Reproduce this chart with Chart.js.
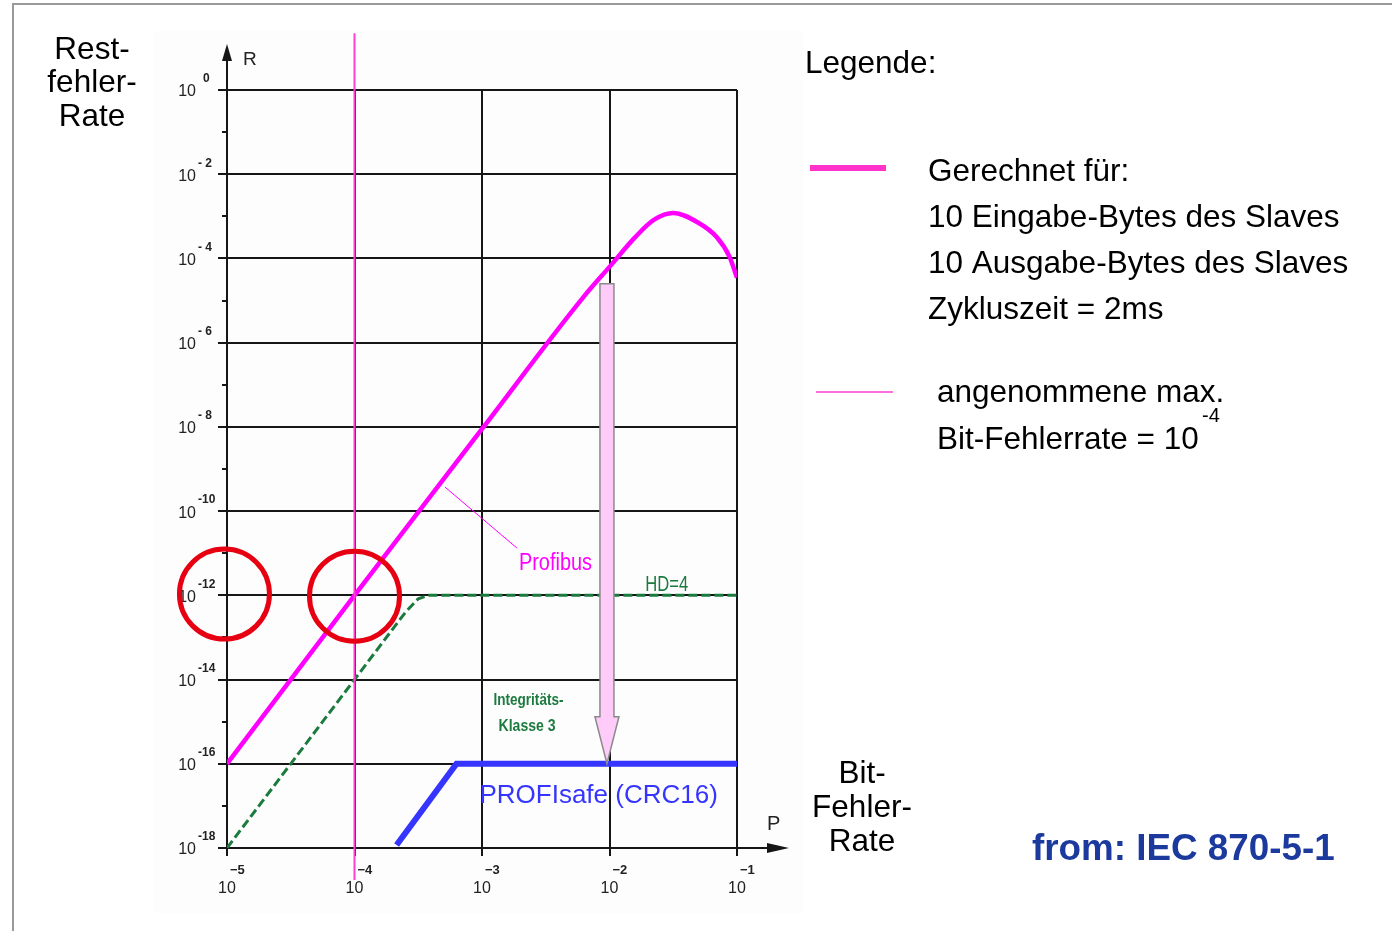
<!DOCTYPE html>
<html>
<head>
<meta charset="utf-8">
<script src="https://cdn.jsdelivr.net/npm/chart.js@4"></script>
<style>
  html, body { margin: 0; padding: 0; background: #fff; }
  #wrap { position: relative; width: 1392px; height: 931px; }
</style>
</head>
<body>
<div id="wrap"><canvas id="chart" width="1392" height="931"></canvas></div>
<script>
// decades shown on the axes (log10 values)
const xDecades = [-5, -4, -3, -2, -1];
const yDecades = [0, -2, -4, -6, -8, -10, -12, -14, -16, -18];
const yMinorDecades = [-1, -3, -5, -7, -9, -11, -13, -15, -17];

// Profibus residual error rate (log10 P, log10 R)
const profibusLogP = [-5, -4, -3, -2.2, -2.0, -1.8, -1.65, -1.5, -1.31, -1.16, -1.06, -1.0];
const profibusLogR = [-16, -12, -8.05, -4.9, -4.2, -3.5, -3.08, -2.92, -3.14, -3.49, -3.95, -4.46];

// HD=4 (Integritaets-Klasse 3)
const hdLogP = [-5, -4, -3.6, -3.5, -3.42, -1.0];
const hdLogR = [-18, -14, -12.4, -12.08, -12, -12];

// PROFIsafe (CRC16)
const crcLogP = [-3.67, -3.2, -1.0];
const crcLogR = [-17.93, -16, -16];

// assumed max. bit error rate 10^-4 (vertical line)
const maxBerLogP = [-4, -4];
const maxBerLogR = [1.35, -18.76];

// pink arrow at P = 10^-2 from the Profibus curve down to PROFIsafe
const arrowLogP = -2.02;
const arrowLogR = [-4.6, -16];

// red circles
const circleLogP = [-5.02, -4];
const circleLogR = [-11.97, -12.02];

const legendLines = ['Gerechnet für:', '10 Eingabe-Bytes des Slaves', '10 Ausgabe-Bytes des Slaves', 'Zykluszeit = 2ms'];

const MAGENTA = '#ff00ff';
const PINK_LINE = '#ff3fcf';
const GREEN = '#1b7a3e';
const BLUE = '#3535ff';
const ARIAL = "'Liberation Sans', Arial, sans-serif";

function pts(ps, rs) {
  return ps.map((p, i) => ({ x: 10 ** p, y: 10 ** rs[i] }));
}

function text(ctx, str, x, y, font, color, align, maxWidth) {
  ctx.font = font;
  ctx.fillStyle = color;
  ctx.textAlign = align || 'left';
  ctx.textBaseline = 'middle';
  if (maxWidth) ctx.fillText(str, x, y, maxWidth);
  else ctx.fillText(str, x, y);
}

function line(ctx, x1, y1, x2, y2, color, width) {
  ctx.strokeStyle = color;
  ctx.lineWidth = width;
  ctx.beginPath();
  ctx.moveTo(x1, y1);
  ctx.lineTo(x2, y2);
  ctx.stroke();
}

const backdrop = {
  id: 'backdrop',
  beforeDraw(chart) {
    const ctx = chart.ctx;
    ctx.save();
    ctx.fillStyle = '#fff';
    ctx.fillRect(0, 0, chart.width, chart.height);
    ctx.fillStyle = '#fdfdfd';
    ctx.fillRect(154, 31, 649, 882);
    ctx.strokeStyle = '#9a9a9a';
    ctx.lineWidth = 2;
    ctx.beginPath();
    ctx.moveTo(13, 931);
    ctx.lineTo(13, 4);
    ctx.lineTo(1392, 4);
    ctx.stroke();
    ctx.restore();
  },
  beforeDatasetsDraw(chart) {
    const { ctx, chartArea: a, scales: { x, y } } = chart;
    ctx.save();
    const ink = '#161616';
    // horizontal grid at even decades, with a short tick left of the axis
    yDecades.forEach((e) => {
      const py = Math.round(y.getPixelForValue(10 ** e));
      line(ctx, a.left - 9, py, a.right, py, ink, 2);
    });
    yMinorDecades.forEach((e) => {
      const py = Math.round(y.getPixelForValue(10 ** e));
      line(ctx, a.left - 5, py, a.left, py, ink, 2);
    });
    // vertical grid at each decade, with tick below the axis
    xDecades.forEach((e) => {
      const px = Math.round(x.getPixelForValue(10 ** e));
      line(ctx, px, a.top, px, a.bottom + 8, ink, 2);
    });
    // axis arrows
    line(ctx, a.left, a.top, a.left, 56, ink, 2);
    ctx.fillStyle = ink;
    ctx.beginPath();
    ctx.moveTo(a.left, 44);
    ctx.lineTo(a.left - 5, 61);
    ctx.lineTo(a.left + 5, 61);
    ctx.closePath();
    ctx.fill();
    line(ctx, a.right, a.bottom, 772, a.bottom, ink, 2);
    ctx.beginPath();
    ctx.moveTo(789, a.bottom);
    ctx.lineTo(767, a.bottom - 5);
    ctx.lineTo(767, a.bottom + 5);
    ctx.closePath();
    ctx.fill();
    text(ctx, 'R', 243, 60, '19px ' + ARIAL, '#222');
    text(ctx, 'P', 767, 824, '20px ' + ARIAL, '#222');

    // tick labels
    yDecades.forEach((e) => {
      const py = y.getPixelForValue(10 ** e);
      text(ctx, '10', 196, py + 2, '16px ' + ARIAL, '#222', 'right');
      const exp = e === 0 ? '0' : (e > -10 ? '- ' + (-e) : '-' + (-e));
      text(ctx, exp, e === 0 ? 203 : 198, py - 11, 'bold 12px ' + ARIAL, '#222');
    });
    xDecades.forEach((e) => {
      const px = x.getPixelForValue(10 ** e);
      text(ctx, '10', px, 889, '16px ' + ARIAL, '#222', 'center');
      text(ctx, '\u2212' + (-e), px + 3, 870, 'bold 13px ' + ARIAL, '#222');
    });
    ctx.restore();
  },
  afterDatasetsDraw(chart) {
    const { ctx, scales: { x, y } } = chart;
    const X = (lp) => x.getPixelForValue(10 ** lp);
    const Y = (lr) => y.getPixelForValue(10 ** lr);
    ctx.save();

    // pink arrow
    const ax = X(arrowLogP);
    const top = Y(arrowLogR[0]);
    const tip = Y(arrowLogR[1]);
    const headTop = tip - 47;
    ctx.fillStyle = '#ffccfa';
    ctx.strokeStyle = '#8a8a8a';
    ctx.lineWidth = 1.5;
    ctx.beginPath();
    ctx.moveTo(ax - 7, top);
    ctx.lineTo(ax + 7, top);
    ctx.lineTo(ax + 7, headTop);
    ctx.lineTo(ax + 12, headTop);
    ctx.lineTo(ax, tip);
    ctx.lineTo(ax - 12, headTop);
    ctx.lineTo(ax - 7, headTop);
    ctx.closePath();
    ctx.fill();
    ctx.stroke();

    // annotations inside the plot (narrow lettering)
    line(ctx, X(-3.29), Y(-9.43), X(-2.725), Y(-10.88), MAGENTA, 1);
    text(ctx, 'Profibus', X(-2.71), Y(-11.25), '23px ' + ARIAL, MAGENTA, 'left', 73);
    text(ctx, 'HD=4', X(-1.72), Y(-11.75), '22px ' + ARIAL, GREEN, 'left', 43);
    text(ctx, 'Integritäts-', X(-2.91), Y(-14.5), 'bold 16px ' + ARIAL, GREEN, 'left', 70);
    text(ctx, 'Klasse 3', X(-2.87), Y(-15.12), 'bold 16px ' + ARIAL, GREEN, 'left', 57);
    text(ctx, 'PROFIsafe (CRC16)', X(-3.02), Y(-16.76), '26px ' + ARIAL, BLUE);

    // red circles
    ctx.strokeStyle = '#e60012';
    ctx.lineWidth = 5;
    circleLogP.forEach((lp, i) => {
      ctx.beginPath();
      ctx.arc(X(lp), Y(circleLogR[i]), 45, 0, Math.PI * 2);
      ctx.stroke();
    });

    // axis titles
    const big = '31.5px ' + ARIAL;
    ['Rest-', 'fehler-', 'Rate'].forEach((s, i) => text(ctx, s, 92, 50 + i * 33.5, big, '#000', 'center'));
    ['Bit-', 'Fehler-', 'Rate'].forEach((s, i) => text(ctx, s, 862, 774 + i * 34, big, '#000', 'center'));

    // legend
    text(ctx, 'Legende:', 805, 64, big, '#000');
    line(ctx, 810, 168, 886, 168, '#ff33cc', 6);
    legendLines.forEach((s, i) => text(ctx, s, 928, 172 + i * 46, big, '#000'));
    line(ctx, 816, 392, 893, 392, PINK_LINE, 1.5);
    text(ctx, 'angenommene max.', 937, 393, big, '#000');
    text(ctx, 'Bit-Fehlerrate = 10', 937, 440, big, '#000');
    text(ctx, '-4', 1202, 416, '20px ' + ARIAL, '#000');

    text(ctx, 'from: IEC 870-5-1', 1032, 850, 'bold 36.8px ' + ARIAL, '#1c3a9e');
    ctx.restore();
  },
};

new Chart(document.getElementById('chart'), {
  type: 'line',
  data: {
    datasets: [
      {
        label: 'max. Bit-Fehlerrate',
        data: pts(maxBerLogP, maxBerLogR),
        borderColor: PINK_LINE,
        borderWidth: 2,
        pointRadius: 0,
        clip: false,
      },
      {
        label: 'HD=4',
        data: pts(hdLogP, hdLogR),
        borderColor: GREEN,
        borderWidth: 3,
        borderDash: [9, 4],
        pointRadius: 0,
        tension: 0,
      },
      {
        label: 'PROFIsafe (CRC16)',
        data: pts(crcLogP, crcLogR),
        borderColor: BLUE,
        borderWidth: 6,
        borderJoinStyle: 'miter',
        pointRadius: 0,
        tension: 0,
        clip: false,
      },
      {
        label: 'Profibus',
        data: pts(profibusLogP, profibusLogR),
        borderColor: MAGENTA,
        borderWidth: 4.5,
        pointRadius: 0,
        cubicInterpolationMode: 'monotone',
      },
    ],
  },
  options: {
    responsive: false,
    animation: false,
    layout: { padding: { left: 227, right: 655, top: 90, bottom: 83 } },
    plugins: { legend: { display: false }, tooltip: { enabled: false } },
    scales: {
      x: { type: 'logarithmic', min: 1e-5, max: 1e-1, display: false },
      y: { type: 'logarithmic', min: 1e-18, max: 1, display: false },
    },
  },
  plugins: [backdrop],
});
</script>
</body>
</html>
